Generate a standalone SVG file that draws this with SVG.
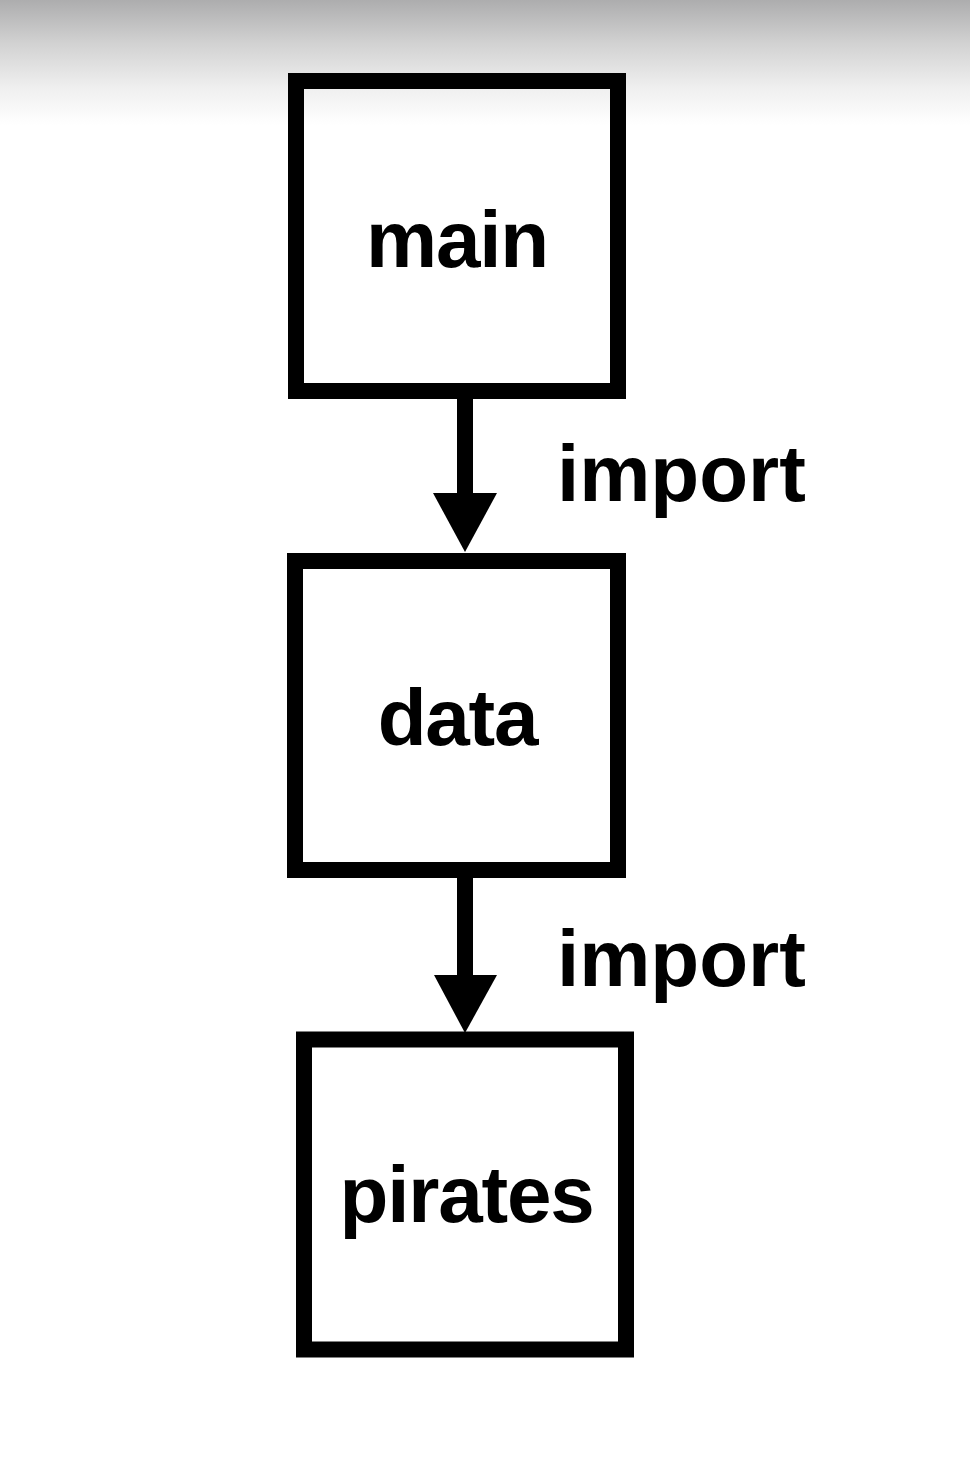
<svg xmlns="http://www.w3.org/2000/svg" width="970" height="1457" viewBox="0 0 970 1457">
  <defs>
    <linearGradient id="topShade" x1="0" y1="0" x2="0" y2="1">
      <stop offset="0" stop-color="#adadae"/>
      <stop offset="0.35" stop-color="#d2d2d2"/>
      <stop offset="0.7" stop-color="#efefef"/>
      <stop offset="1" stop-color="#ffffff"/>
    </linearGradient>
  </defs>
  <style>
    .box { fill: none; stroke: #000; stroke-width: 16; }
    .label { font-family: "Liberation Sans", Arial, sans-serif; font-weight: bold; font-size: 80px; fill: #000; }
    .name { letter-spacing: -1.2px; }
    .shaft { stroke: #000; stroke-width: 16; fill: none; }
    .head { fill: #000; }
  </style>
  <rect x="0" y="0" width="970" height="1457" fill="#ffffff"/>
  <rect x="0" y="0" width="970" height="125" fill="url(#topShade)"/>

  <g id="connectors">
    <g id="edge-main-data">
      <line class="shaft" x1="465" y1="399" x2="465" y2="496"/>
      <polygon class="head" points="433,493 497,493 465,552"/>
      <text class="label" x="557" y="501">import</text>
    </g>
    <g id="edge-data-pirates">
      <line class="shaft" x1="465" y1="877" x2="465" y2="978"/>
      <polygon class="head" points="434,975 497,975 465,1033"/>
      <text class="label" x="557" y="986">import</text>
    </g>
  </g>

  <g id="node-main">
    <rect class="box" x="296" y="81" width="322" height="310"/>
    <text class="label name" x="457" y="267" text-anchor="middle">main</text>
  </g>
  <g id="node-data">
    <rect class="box" x="295" y="561" width="323" height="309"/>
    <text class="label name" x="457.5" y="745" text-anchor="middle">data</text>
  </g>
  <g id="node-pirates">
    <rect class="box" x="304" y="1039.5" width="322" height="310"/>
    <text class="label name" x="466.5" y="1222" text-anchor="middle">pirates</text>
  </g>
</svg>
